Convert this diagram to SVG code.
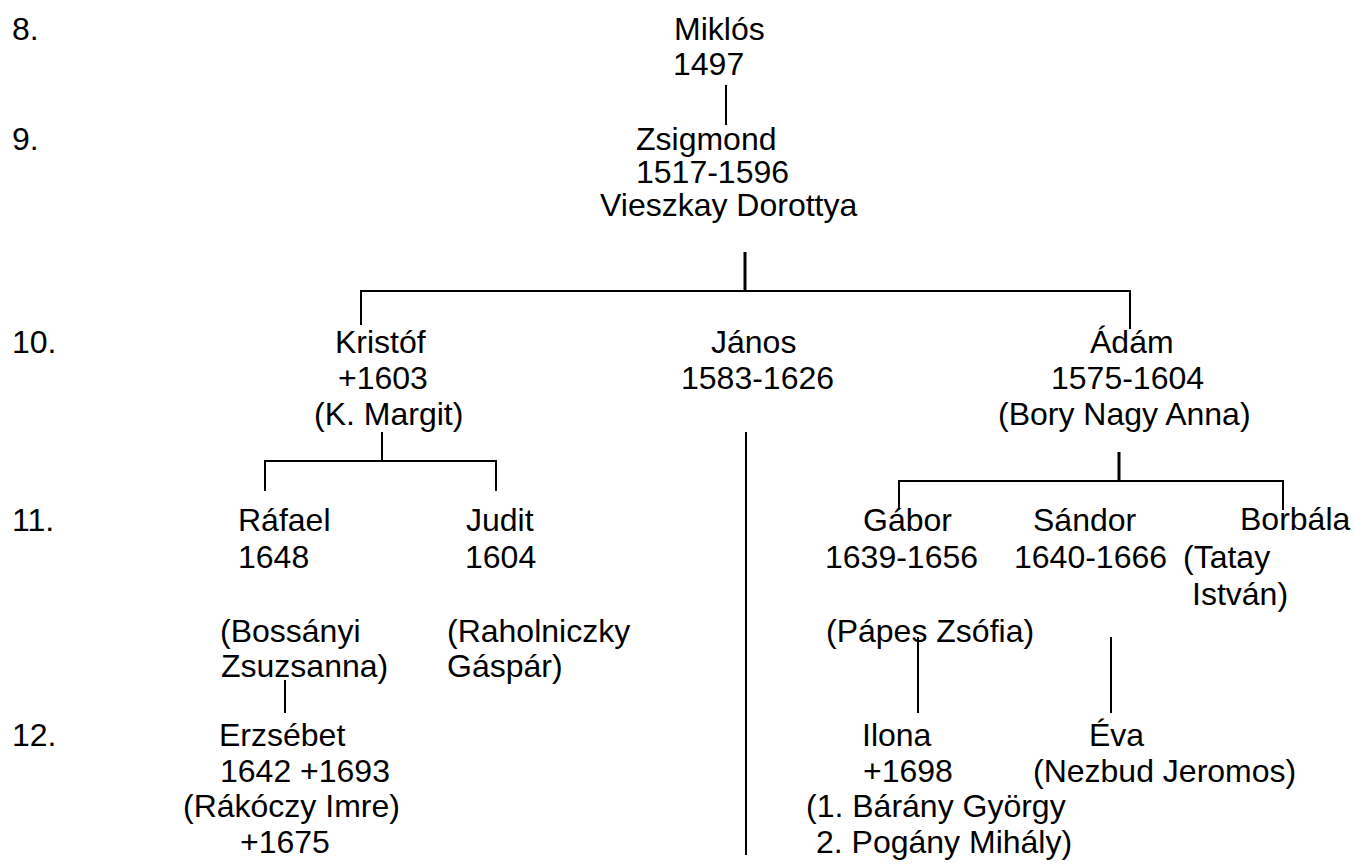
<svg xmlns="http://www.w3.org/2000/svg" width="1354" height="864" viewBox="0 0 1354 864">
<style>
text{font-family:"Liberation Sans",Arial,sans-serif;font-size:32px;fill:#000}
.c line{stroke:#000;stroke-width:2}
.c line.t{stroke-width:3}
</style>
<rect width="1354" height="864" fill="#fff"/>
<g id="generations">
<text x="12" y="40">8.</text>
<text x="12" y="150">9.</text>
<text x="12" y="353">10.</text>
<text x="12" y="531">11.</text>
<text x="12" y="746">12.</text>
</g>
<g class="c" id="connectors">
<line x1="726" y1="85" x2="726" y2="125"/>
<line class="t" x1="745" y1="252" x2="745" y2="291"/>
<line x1="360" y1="291" x2="1131" y2="291"/>
<line x1="361" y1="291" x2="361" y2="325"/>
<line x1="1130" y1="291" x2="1130" y2="329"/>
<line x1="382" y1="432" x2="382" y2="461"/>
<line x1="264" y1="461" x2="497" y2="461"/>
<line x1="265" y1="461" x2="265" y2="491"/>
<line x1="496" y1="461" x2="496" y2="491"/>
<line x1="746" y1="432" x2="746" y2="855"/>
<line class="t" x1="1119" y1="452" x2="1119" y2="481"/>
<line x1="898" y1="481" x2="1284" y2="481"/>
<line x1="899" y1="481" x2="899" y2="508"/>
<line x1="1283" y1="481" x2="1283" y2="510"/>
<line x1="285" y1="680" x2="285" y2="713"/>
<line x1="918" y1="637" x2="918" y2="713"/>
<line x1="1111" y1="637" x2="1111" y2="713"/>
</g>
<g id="miklos">
<text x="674" y="40">Miklós</text>
<text x="673" y="75">1497</text>
</g>
<g id="zsigmond">
<text x="636" y="150">Zsigmond</text>
<text x="636" y="183">1517-1596</text>
<text x="600" y="216">Vieszkay Dorottya</text>
</g>
<g id="kristof">
<text x="335" y="353">Kristóf</text>
<text x="338" y="389">+1603</text>
<text x="314" y="425">(K. Margit)</text>
</g>
<g id="janos">
<text x="711" y="353">János</text>
<text x="681" y="389">1583-1626</text>
</g>
<g id="adam">
<text x="1090" y="353">Ádám</text>
<text x="1051" y="389">1575-1604</text>
<text x="998" y="425">(Bory Nagy Anna)</text>
</g>
<g id="rafael">
<text x="238" y="531">Ráfael</text>
<text x="238" y="568">1648</text>
<text x="220" y="642">(Bossányi</text>
<text x="221" y="677">Zsuzsanna)</text>
</g>
<g id="judit">
<text x="466" y="531">Judit</text>
<text x="465" y="568">1604</text>
<text x="447" y="642">(Raholniczky</text>
<text x="447" y="677">Gáspár)</text>
</g>
<g id="gabor">
<text x="863" y="531">Gábor</text>
<text x="825" y="568">1639-1656</text>
<text x="826" y="642">(Pápes Zsófia)</text>
</g>
<g id="sandor">
<text x="1033" y="531">Sándor</text>
<text x="1014" y="568">1640-1666</text>
</g>
<g id="borbala">
<text x="1240" y="530">Borbála</text>
<text x="1183" y="568">(Tatay</text>
<text x="1192" y="605">István)</text>
</g>
<g id="erzsebet">
<text x="219" y="746">Erzsébet</text>
<text x="220" y="782">1642 +1693</text>
<text x="183" y="817">(Rákóczy Imre)</text>
<text x="240" y="853">+1675</text>
</g>
<g id="ilona">
<text x="862" y="746">Ilona</text>
<text x="863" y="782">+1698</text>
<text x="806" y="817">(1. Bárány György</text>
<text x="816" y="853">2. Pogány Mihály)</text>
</g>
<g id="eva">
<text x="1089" y="746">Éva</text>
<text x="1033" y="782">(Nezbud Jeromos)</text>
</g>
</svg>
